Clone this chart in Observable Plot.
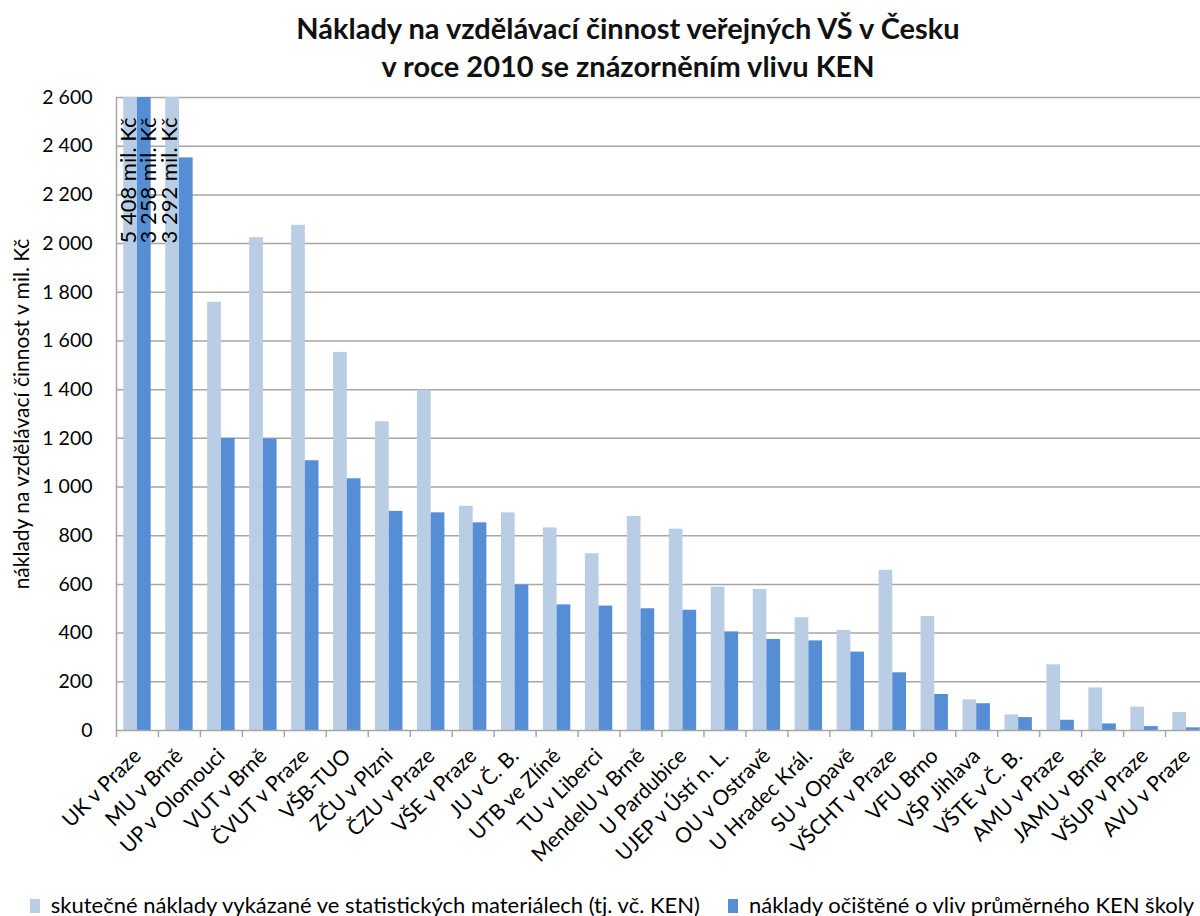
<!DOCTYPE html>
<html><head><meta charset="utf-8">
<script src="https://cdn.jsdelivr.net/npm/d3@7"></script>
<script src="https://cdn.jsdelivr.net/npm/@observablehq/plot@0.6"></script>
<style>
body{margin:0;background:#fff;width:1200px;height:916px;overflow:hidden;font-family:Lato,"Open Sans",sans-serif;color:#000;}
#wrap{position:relative;width:1256px;height:916px;}
#title{height:85px;text-align:center;font-weight:bold;font-size:29px;line-height:38px;padding-top:9px;box-sizing:border-box;color:#111;}
#chart{position:absolute;left:0;top:85px;}
#ylab{position:absolute;left:20px;top:414px;transform:translate(-50%,-50%) rotate(-90deg);white-space:nowrap;font-size:21px;}
#legend{position:absolute;left:-16px;top:891px;width:1256px;text-align:center;font-size:22px;white-space:nowrap;}
#legend span.sw{display:inline-block;width:10px;height:14px;margin-right:11px;vertical-align:0px;}
#legend span.item{margin:0 14px;}
</style>
</head><body>
<div id="wrap">
  <div id="title">Náklady na vzdělávací činnost veřejných VŠ v Česku<br>v roce 2010 se znázorněním vlivu KEN</div>
  <div id="chart"></div>
  <div id="ylab">náklady na vzdělávací činnost v mil. Kč</div>
  <div id="legend"></div>
</div>
<script>
const categories = ["UK v Praze","MU v Brně","UP v Olomouci","VUT v Brně","ČVUT v Praze","VŠB-TUO","ZČU v Plzni","ČZU v Praze","VŠE v Praze","JU v Č. B.","UTB ve Zlíně","TU v Liberci","MendelU v Brně","U Pardubice","UJEP v Ústí n. L.","OU v Ostravě","U Hradec Král.","SU v Opavě","VŠCHT v Praze","VFU Brno","VŠP Jihlava","VŠTE v Č. B.","AMU v Praze","JAMU v Brně","VŠUP v Praze","AVU v Praze"];
const actualCosts = [5408,3292,1759,2024,2075,1553,1268,1398,921,894,832,726,879,827,589,579,463,411,658,468,126,64,270,175,96,74];
const adjustedCosts = [3258,2352,1200,1197,1108,1034,900,894,853,597,516,511,500,494,405,374,368,322,237,148,110,53,42,27,16,11];
const seriesNames = ["skutečné náklady vykázané ve statistických materiálech (tj. vč. KEN)","náklady očištěné o vliv průměrného KEN školy"];
const seriesColors = ["#b9cde5","#558ed5"];
const yTicks = [0,200,400,600,800,1000,1200,1400,1600,1800,2000,2200,2400,2600];
const yMax = 2600;

const locale = d3.formatLocale({decimal:",", thousands:"\u00a0", grouping:[3], currency:["",""]});
const fmt = locale.format(",d");

const W = 1256, H = 800;
const mL = 116, mR = 49, mT = 12;
const plotBottom = 730 - 85;
const marginBottom = H - plotBottom;
const n = categories.length;
const step = (W - mL - mR) / n;
const pIn = 0.347, pOut = 0.1735;
const bw = step * (1 - pIn);

const rowsA = categories.map((c,i)=>({cat:c, value:actualCosts[i]}));
const rowsB = categories.map((c,i)=>({cat:c, value:adjustedCosts[i]}));
const bigA = rowsA.filter(d=>d.value>yMax);
const bigB = rowsB.filter(d=>d.value>yMax);
const lbl = d => fmt(d.value) + " mil. Kč";

const gridColor = "#a6a6a6";

const plot = Plot.plot({
  width: W, height: H,
  marginLeft: mL, marginRight: mR, marginTop: mT, marginBottom: marginBottom,
  style: {fontFamily: "Lato, 'Open Sans', sans-serif", fontSize: "19px", color: "#000", background: "#fff"},
  x: {domain: categories, paddingInner: pIn, paddingOuter: pOut, round: false, label: null},
  y: {domain: [0, yMax], clamp: true, label: null},
  marks: [
    Plot.ruleY(yTicks.filter(d=>d>0), {stroke: gridColor, strokeWidth: 1.5}),
    Plot.barY(rowsA, {x: "cat", y: "value", fill: seriesColors[0], insetRight: bw/2}),
    Plot.barY(rowsB, {x: "cat", y: "value", fill: seriesColors[1], insetLeft: bw/2}),
    Plot.ruleY([0], {stroke: gridColor, strokeWidth: 1.5}),
    Plot.ruleX([categories[0]], {y1: 0, y2: yMax, dx: -step/2, stroke: gridColor, strokeWidth: 1.5}),
    Plot.ruleX(categories, {y1: 0, y2: 0, dx: -step/2, insetBottom: -7, stroke: gridColor, strokeWidth: 1.5}),
    Plot.ruleX([categories[n-1]], {y1: 0, y2: 0, dx: step/2, insetBottom: -7, stroke: gridColor, strokeWidth: 1.5}),
    Plot.axisY({ticks: yTicks, tickSize: 0, tickPadding: 24, tickFormat: fmt, fontSize: 19.5, label: null}),
    Plot.ruleY(yTicks, {x: categories[0], dx: -step/2, insetLeft: -8, insetRight: 0, stroke: gridColor, strokeWidth: 1.5}),
    Plot.axisX({tickRotate: -45, tickSize: 0, tickPadding: 22, fontSize: 21, label: null}),
    Plot.text(bigA, {x: "cat", y: "value", text: lbl, rotate: -90, textAnchor: "end", dy: 20, dx: -9, fontSize: 22, fill: "#000"}),
    Plot.text(bigB, {x: "cat", y: "value", text: lbl, rotate: -90, textAnchor: "end", dy: 20, dx: 11, fontSize: 22, fill: "#000"})
  ]
});
document.getElementById("chart").appendChild(plot);

const lg = document.getElementById("legend");
seriesNames.forEach((s,i)=>{
  const it = document.createElement("span"); it.className = "item";
  const sw = document.createElement("span"); sw.className = "sw"; sw.style.background = seriesColors[i];
  it.appendChild(sw); it.appendChild(document.createTextNode(s)); lg.appendChild(it);
});
</script>
</body></html>
